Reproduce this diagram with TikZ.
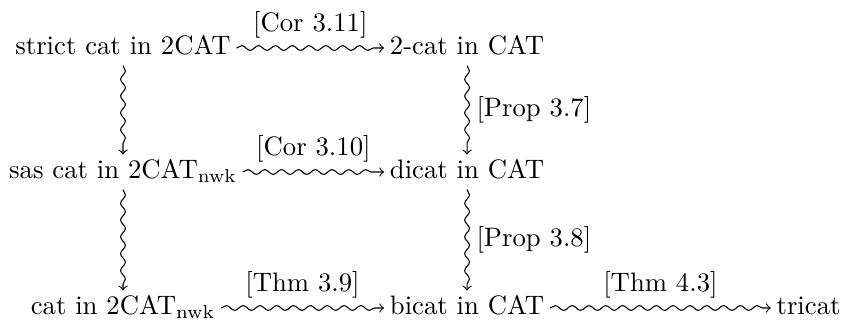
\documentclass[tikz,border=0pt]{standalone}
\usetikzlibrary{decorations.pathmorphing}
\begin{document}
\begin{tikzpicture}[
	obj/.style={anchor=base, inner xsep=2pt, inner ysep=2.5pt, text height=1.5ex, text depth=0.3ex},
	squig/.style={->, decorate, decoration={snake, amplitude=0.9pt, segment length=6.3pt, post length=2pt}}
]
	\useasboundingbox (0,0) rectangle (11.07,4.211);
	\node[obj] (strict) at (1.619,3.488) {strict cat in 2CAT};
	\node[obj] (twocat) at (6.148,3.488) {2-cat in CAT};
	\node[obj] (sas) at (1.619,1.856) {sas cat in 2CAT$_\mathrm{nwk}$};
	\node[obj] (dicat) at (6.148,1.856) {dicat in CAT};
	\node[obj] (cat) at (1.619,0.066) {cat in 2CAT$_\mathrm{nwk}$};
	\node[obj] (bicat) at (6.148,0.066) {bicat in CAT};
	\node[obj] (tricat) at (10.643,0.066) {tricat};
	\draw[squig] (strict) -- node[above] {[Cor 3.11]} (twocat);
	\draw[squig] (sas) -- node[above] {[Cor 3.10]} (dicat);
	\draw[squig] (cat) -- node[above] {[Thm 3.9]} (bicat);
	\draw[squig] (bicat) -- node[above] {[Thm 4.3]} (tricat);
	\draw[squig] (strict) -- (sas);
	\draw[squig] (sas) -- (cat);
	\draw[squig] (twocat) -- node[right] {[Prop 3.7]} (dicat);
	\draw[squig] (dicat) -- node[right] {[Prop 3.8]} (bicat);
\end{tikzpicture}
\end{document}
